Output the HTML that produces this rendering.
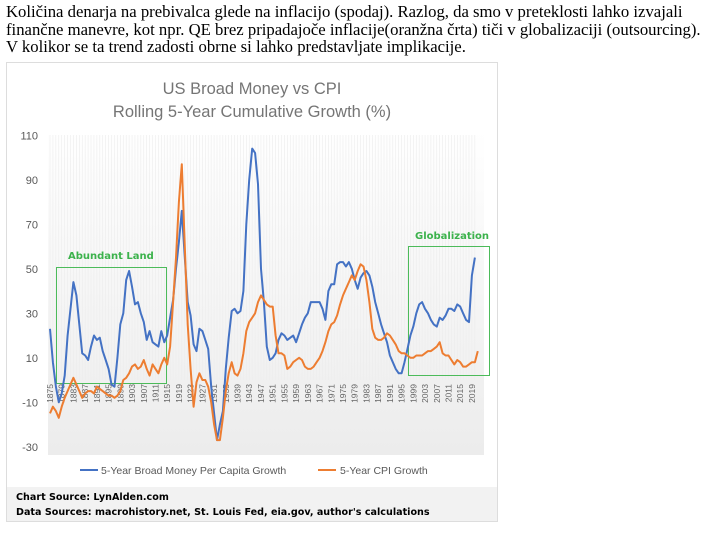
<!DOCTYPE html>
<html><head><meta charset="utf-8">
<style>
body{margin:0;background:#fff;width:725px;height:538px;overflow:hidden;font-family:"Liberation Serif",serif}
.intro{position:absolute;left:6px;top:3px;font-size:16.7px;line-height:17.5px;color:#000;width:719px;white-space:nowrap}
</style></head><body>
<div class="intro">Količina denarja na prebivalca glede na inflacijo (spodaj). Razlog, da smo v preteklosti lahko izvajali<br>finančne manevre, kot npr. QE brez pripadajoče inflacije(oranžna črta) tiči v globalizaciji (outsourcing).<br>V kolikor se ta trend zadosti obrne si lahko predstavljate implikacije.</div>
<svg id="chart" width="725" height="538" style="position:absolute;left:0;top:0" xmlns="http://www.w3.org/2000/svg">
<defs><linearGradient id="bg" x1="0" y1="0" x2="0" y2="1"><stop offset="0" stop-color="#fff"/><stop offset="1" stop-color="#ececec"/></linearGradient></defs>
<rect x="6.5" y="62.5" width="491" height="459" fill="#fff" stroke="#ddd"/>
<rect x="48" y="130" width="436" height="325" fill="url(#bg)"/>
<text x="252" y="94" text-anchor="middle" font-family="Liberation Sans, sans-serif" font-size="16.5" fill="#757575">US Broad Money vs CPI</text>
<text x="252" y="117" text-anchor="middle" font-family="Liberation Sans, sans-serif" font-size="16.5" fill="#757575">Rolling 5-Year Cumulative Growth (%)</text>
<g id="grid"></g><g id="yt"></g><g id="xt"></g>
<rect x="56.5" y="267.5" width="110" height="116" fill="none" stroke="#4cbb5a"/>
<text x="68" y="259" font-family="DejaVu Sans, sans-serif" font-weight="bold" font-size="10" fill="#3cb24c">Abundant Land</text>
<rect x="408.5" y="246.5" width="81" height="129" fill="none" stroke="#4cbb5a"/>
<text x="415" y="239" font-family="DejaVu Sans, sans-serif" font-weight="bold" font-size="10" fill="#3cb24c">Globalization</text>
<g id="lines"></g>
<line x1="80" y1="470" x2="98" y2="470" stroke="#4472c4" stroke-width="2"/>
<text x="101" y="474" font-family="Liberation Sans, sans-serif" font-size="10.5" fill="#595959">5-Year Broad Money Per Capita Growth</text>
<line x1="318" y1="470" x2="336" y2="470" stroke="#ed7d31" stroke-width="2"/>
<text x="340" y="474" font-family="Liberation Sans, sans-serif" font-size="10.5" fill="#595959">5-Year CPI Growth</text>
<rect x="7" y="487" width="490" height="34" fill="#f2f2f2"/>
<text x="16" y="500" font-family="DejaVu Sans, sans-serif" font-weight="bold" font-size="9.6" fill="#000">Chart Source: LynAlden.com</text>
<text x="16" y="515" font-family="DejaVu Sans, sans-serif" font-weight="bold" font-size="9.6" fill="#000">Data Sources: macrohistory.net, St. Louis Fed, eia.gov, author's calculations</text>
</svg>
<script>
const startYear = 1875;
const moneyGrowth = [23,8,-3,-10,-6,2,20,32,44,38,25,12,11,9,15,20,18,19,13,9,5,-2,-3,10,25,30,45,49,42,34,35,30,26,18,22,17,16,15,22,17,20,28,36,50,62,76,55,35,29,16,13,23,22,18,14,-3,-15,-27,-20,-14,5,19,31,32,30,31,40,70,90,104,102,88,50,35,15,9,10,12,18,21,20,18,19,20,17,21,25,28,30,35,35,35,35,32,27,40,43,43,52,53,53,51,53,50,45,41,46,48,49,47,42,35,30,25,21,17,11,8,5,3,3,8,14,20,24,30,34,35,32,30,27,25,24,28,27,29,32,32,31,34,33,30,27,26,47,55];
const cpiGrowth = [-15,-12,-14,-17,-12,-8,-5,-2,1,-2,-5,-8,-6,-5,-5,-6,-3,-4,-5,-6,-7,-7,-8,-7,-5,0,1,3,6,7,5,6,9,5,2,7,5,3,7,10,7,15,35,55,80,97,60,25,5,-12,-1,3,0,0,-3,-10,-20,-27,-27,-17,-5,3,8,3,2,5,12,22,26,28,30,35,38,36,34,33,33,20,12,12,11,5,6,8,9,10,9,6,5,5,6,8,10,13,17,22,25,26,29,34,38,41,44,47,45,49,52,51,45,35,23,19,18,18,19,21,20,18,16,13,12,12,11,10,10,11,11,11,12,13,13,14,15,17,12,11,11,9,7,9,8,6,6,7,8,8,13];
const yTicks = [110,90,70,50,30,10,-10,-30];
const ns="http://www.w3.org/2000/svg";
const xs = yr => 50 + (yr-startYear)*2.93;
const ys = v => 380 - v*2.225;
const grid=document.getElementById('grid'), yt=document.getElementById('yt'), xt=document.getElementById('xt'), lines=document.getElementById('lines');
const n=moneyGrowth.length;
for(let i=0;i<n;i++){
  const l=document.createElementNS(ns,'line');
  
  
  l.setAttribute('x1',xs(startYear+i));l.setAttribute('x2',xs(startYear+i));
  l.setAttribute('y1',135);l.setAttribute('y2',380);
  l.setAttribute('stroke','#ececec');l.setAttribute('stroke-width','0.6');
  grid.appendChild(l);
  if(i%4===0){
    const t=document.createElementNS(ns,'text');
    
    
    const x=xs(startYear+i)+3;
    t.setAttribute('transform','translate('+x+',384) rotate(-90)');
    t.setAttribute('text-anchor','end');
    t.setAttribute('font-family','Liberation Sans, sans-serif');
    t.setAttribute('font-size','8.5');t.setAttribute('fill','#666');
    t.textContent=startYear+i;xt.appendChild(t);
  }
}
yTicks.forEach(v=>{
  const t=document.createElementNS(ns,'text');
  
  
  t.setAttribute('x',38);t.setAttribute('y',ys(v)+4);t.setAttribute('text-anchor','end');
  t.setAttribute('font-family','Liberation Sans, sans-serif');t.setAttribute('font-size','11');t.setAttribute('fill','#595959');
  t.textContent=v;yt.appendChild(t);
});
function draw(arr,color,name){
  const p=document.createElementNS(ns,'polyline');
  
  
  p.setAttribute('points',arr.map((v,i)=>xs(startYear+i).toFixed(1)+','+ys(v).toFixed(1)).join(' '));
  p.setAttribute('fill','none');p.setAttribute('stroke',color);p.setAttribute('stroke-width','2');p.setAttribute('stroke-linejoin','round');
  lines.appendChild(p);
}
draw(moneyGrowth,'#4472c4','money-growth-line');
draw(cpiGrowth,'#ed7d31','cpi-growth-line');
</script>
</body></html>
